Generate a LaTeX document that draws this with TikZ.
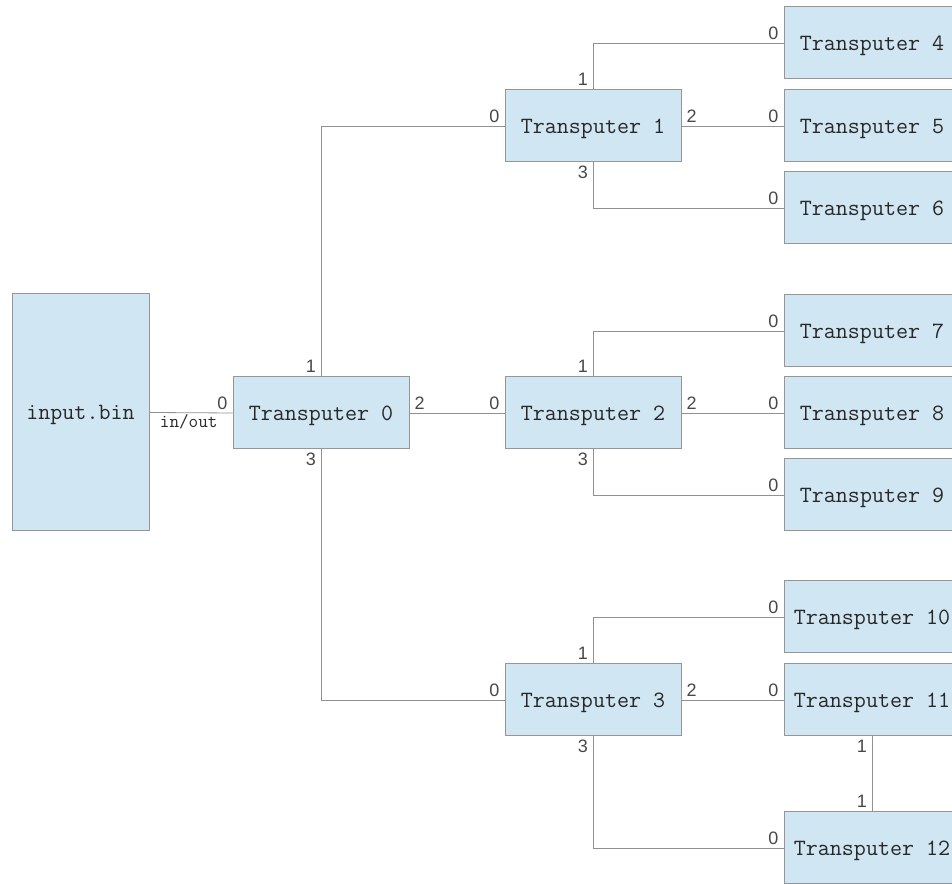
\documentclass[tikz,border=0pt]{standalone}
\usepackage{fontspec}
\newfontfamily\portfont{Liberation Sans}
\definecolor{boxfill}{RGB}{208,230,243}
\definecolor{boxline}{RGB}{150,150,150}
\definecolor{wire}{RGB}{145,145,145}
\definecolor{ink}{RGB}{40,40,40}
\tikzset{
  tbox/.style={draw=boxline, fill=boxfill, line width=0.75pt, minimum width=132pt,
    minimum height=54pt, inner sep=0pt, text depth=0pt, text=ink,
    font=\ttfamily\fontsize{17.5}{18}\selectfont},
  link/.style={draw=wire, line width=0.6pt},
  port/.style={inner xsep=3.5pt, inner ysep=2.5pt, text=ink!85, font=\portfont\fontsize{13.5}{14}\selectfont},
  io/.style={inner sep=1.5pt, text=ink, font=\ttfamily\fontsize{14}{15}\selectfont}
}
\begin{document}
\begin{tikzpicture}[x=0.75pt, y=0.75pt]
  \useasboundingbox (0,0) rectangle (952,884);

  % File
  \node[tbox, minimum width=102.75pt, minimum height=177.75pt] (in) at (80.5,471.5) {input.bin};

  % Transputers
  \node[tbox] (t0) at (321,471) {Transputer 0};
  \node[tbox] (t1) at (593,758) {Transputer 1};
  \node[tbox] (t2) at (593,471) {Transputer 2};
  \node[tbox] (t3) at (593,184) {Transputer 3};
  \node[tbox] (t4) at (872,841) {Transputer 4};
  \node[tbox] (t5) at (872,758) {Transputer 5};
  \node[tbox] (t6) at (872,676) {Transputer 6};
  \node[tbox] (t7) at (872,553) {Transputer 7};
  \node[tbox] (t8) at (872,471) {Transputer 8};
  \node[tbox] (t9) at (872,389) {Transputer 9};
  \node[tbox] (t10) at (872,267) {Transputer 10};
  \node[tbox] (t11) at (872,184) {Transputer 11};
  \node[tbox] (t12) at (872,36) {Transputer 12};

  % Links
  \draw[link] (in.east) node[io, anchor=north west, xshift=6pt] {in/out}
    -- (t0.west) node[port, anchor=south east] {0};

  \draw[link] (t0.north) node[port, anchor=south east] {1} |- (t1.west) node[port, anchor=south east] {0};
  \draw[link] (t0.east) node[port, anchor=south west] {2} -- (t2.west) node[port, anchor=south east] {0};
  \draw[link] (t0.south) node[port, anchor=north east] {3} |- (t3.west) node[port, anchor=south east] {0};

  \foreach \p/\a/\b/\c in {t1/t4/t5/t6, t2/t7/t8/t9, t3/t10/t11/t12} {
    \draw[link] (\p.north) node[port, anchor=south east] {1} |- (\a.west) node[port, anchor=south east] {0};
    \draw[link] (\p.east) node[port, anchor=south west] {2} -- (\b.west) node[port, anchor=south east] {0};
    \draw[link] (\p.south) node[port, anchor=north east] {3} |- (\c.west) node[port, anchor=south east] {0};
  }

  \draw[link] (t11.south) node[port, anchor=north east] {1} -- (t12.north) node[port, anchor=south east] {1};
\end{tikzpicture}
\end{document}
